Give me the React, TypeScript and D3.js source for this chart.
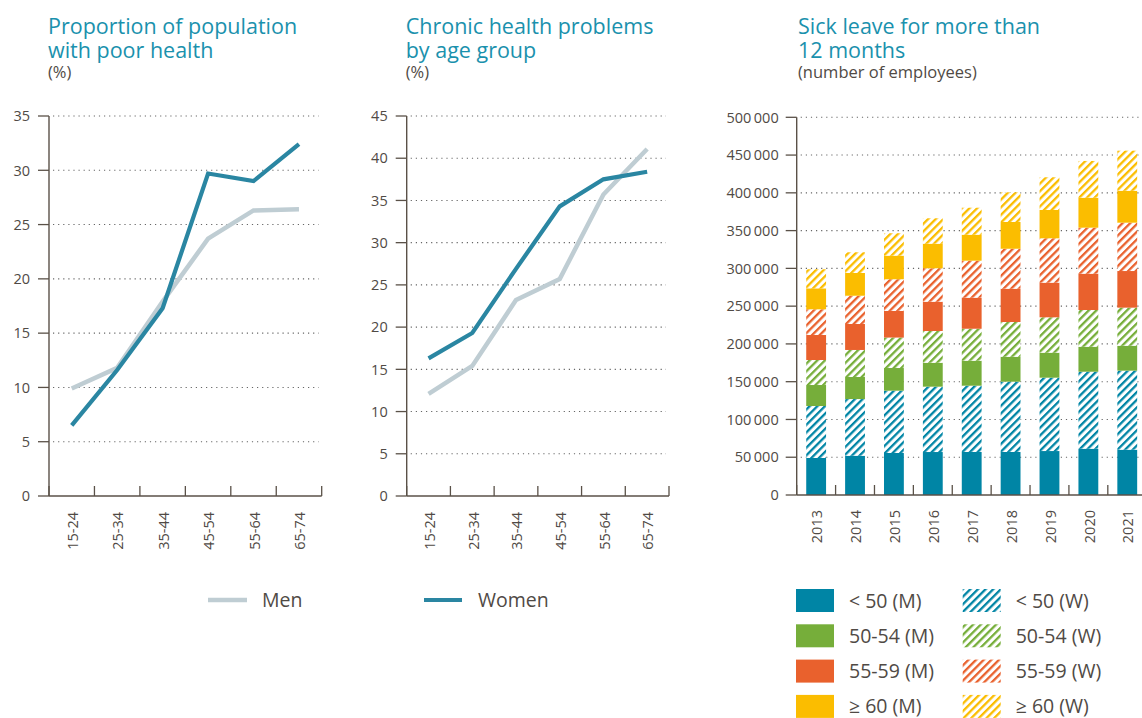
import React from "react";
import * as d3 from "d3";

// age groups for the two line charts
const ageGroups = ["15-24", "25-34", "35-44", "45-54", "55-64", "65-74"];
const poorHealthMen = [9.9, 11.8, 17.9, 23.7, 26.3, 26.4];
const poorHealthWomen = [6.5, 11.6, 17.3, 29.7, 29.0, 32.4];
const chronicMen = [12.1, 15.4, 23.2, 25.7, 35.7, 41.1];
const chronicWomen = [16.3, 19.3, 26.9, 34.3, 37.5, 38.4];

// sick leave > 12 months, by year
const years = ["2013", "2014", "2015", "2016", "2017", "2018", "2019", "2020", "2021"];
const under50M = [49000, 52000, 55600, 56900, 57000, 57000, 58200, 61300, 60000];
const under50W = [68800, 75000, 82500, 86500, 87700, 93000, 97100, 101900, 104600];
const age5054M = [27800, 29200, 30000, 31700, 33100, 33000, 33100, 33100, 33000];
const age5054W = [33100, 35800, 40300, 42000, 42300, 46000, 46800, 48600, 50400];
const age5559M = [33100, 34400, 35300, 38800, 41100, 44100, 45900, 48100, 48500];
const age5559W = [34000, 37400, 41900, 44200, 49000, 52900, 58700, 60900, 64000];
const over60M = [27800, 30100, 31300, 32600, 34400, 35400, 37500, 39700, 42300];
const over60W = [25200, 27400, 29600, 33600, 35700, 39300, 43300, 48600, 53000];

const seriesKeys = ["u50M", "u50W", "a50M", "a50W", "a55M", "a55W", "a60M", "a60W"];
const seriesLabels = ["< 50 (M)", "< 50 (W)", "50-54 (M)", "50-54 (W)", "55-59 (M)", "55-59 (W)", "≥ 60 (M)", "≥ 60 (W)"];
const seriesValues = [under50M, under50W, age5054M, age5054W, age5559M, age5559W, over60M, over60W];
const seriesColors = ["#0085a5", "#0085a5", "#76ae3a", "#76ae3a", "#e9612d", "#e9612d", "#fbbd00", "#fbbd00"];

const FONT = "'Open Sans', 'Noto Sans', sans-serif";
const TITLE = "#1a91ad";
const TEXT = "#504a45";
const AXIS = "#5a5148";
const MEN = "#bfcdd3";
const WOMEN = "#2a86a2";

function Title({ x, lines, sub }) {
  return (
    <g fontFamily={FONT}>
      {lines.map((l, i) => (
        <text key={i} x={x} y={34 + i * 24} fill={TITLE} fontSize={21.5}>{l}</text>
      ))}
      <text x={x} y={34 + lines.length * 24 - 4} fill={TEXT} fontSize={16.5}>{sub}</text>
    </g>
  );
}

function LineChart({ left, right, yMax, men, women, title }) {
  const top = 116, bottom = 496;
  const x = d3.scaleBand().domain(ageGroups).range([left, right]).padding(0);
  const y = d3.scaleLinear().domain([0, yMax]).range([bottom, top]);
  const cx = (d) => x(d) + x.bandwidth() / 2;
  const line = d3.line().x((d) => cx(d[0])).y((d) => y(d[1]));
  const ticks = d3.range(0, yMax + 1, 5);
  const bounds = ageGroups.map((g) => x(g)).concat([right]);
  return (
    <g fontFamily={FONT}>
      <Title x={left - 1} lines={title} sub="(%)" />
      {ticks.map((t) => (
        <g key={t}>
          {t > 0 && (
            <line x1={left + 4} x2={right - 3} y1={y(t)} y2={y(t)} stroke="#666" strokeWidth={1.1} strokeDasharray="1.2 3.9" />
          )}
          <line x1={left - 11} x2={left} y1={y(t)} y2={y(t)} stroke={AXIS} strokeWidth={1.3} />
          <text x={left - 19} y={y(t)} dy="0.36em" textAnchor="end" fontSize={14.5} fill={TEXT}>{t}</text>
        </g>
      ))}
      <line x1={left} x2={left} y1={top} y2={bottom} stroke={AXIS} strokeWidth={1.4} />
      <line x1={left} x2={right} y1={bottom} y2={bottom} stroke={AXIS} strokeWidth={1.4} />
      {bounds.map((b, i) => (
        <line key={i} x1={b} x2={b} y1={bottom - 10} y2={bottom} stroke={AXIS} strokeWidth={1.3} />
      ))}
      {ageGroups.map((g) => (
        <text key={g} transform={`translate(${cx(g) + 1},512) rotate(-90)`} dy="0.36em" textAnchor="end" fontSize={14.5} fill={TEXT}>{g}</text>
      ))}
      <path d={line(ageGroups.map((g, i) => [g, men[i]]))} fill="none" stroke={MEN} strokeWidth={4.5} />
      <path d={line(ageGroups.map((g, i) => [g, women[i]]))} fill="none" stroke={WOMEN} strokeWidth={4.2} />
    </g>
  );
}

function StackedChart() {
  const left = 796.7, top = 117.3, bottom = 495;
  const x = d3.scaleBand().domain(years).range([left, left + 350]).paddingInner(0.49).paddingOuter(0.245);
  const y = d3.scaleLinear().domain([0, 500000]).range([bottom, top]);
  const rows = years.map((yr, i) => {
    const r = { year: yr };
    seriesKeys.forEach((k, j) => (r[k] = seriesValues[j][i]));
    return r;
  });
  const stacked = d3.stack().keys(seriesKeys)(rows);
  const fmt = (v) => d3.format(",")(v).replace(/,/g, "\u2009");
  const ticks = d3.range(0, 500001, 50000);
  const step = x.step();
  return (
    <g fontFamily={FONT}>
      <Title x={798} lines={["Sick leave for more than", "12 months"]} sub="(number of employees)" />
      {ticks.map((t) => (
        <g key={t}>
          {t > 0 && (
            <line x1={left + 4} x2={1142} y1={y(t)} y2={y(t)} stroke="#666" strokeWidth={1.1} strokeDasharray="1.2 3.9" />
          )}
          <line x1={left - 11} x2={left} y1={y(t)} y2={y(t)} stroke={AXIS} strokeWidth={1.3} />
          <text x={left - 18} y={y(t)} dy="0.36em" textAnchor="end" fontSize={14.5} fill={TEXT}>{fmt(t)}</text>
        </g>
      ))}
      {stacked.map((s, j) => (
        <g key={s.key} fill={j % 2 === 0 ? seriesColors[j] : `url(#hatch-${j})`}>
          {s.map((d, i) => (
            <rect key={i} x={x(years[i])} width={x.bandwidth()} y={y(d[1])} height={y(d[0]) - y(d[1])} />
          ))}
        </g>
      ))}
      <line x1={left} x2={left} y1={top} y2={bottom} stroke={AXIS} strokeWidth={1.4} />
      <line x1={left} x2={1142} y1={bottom} y2={bottom} stroke={AXIS} strokeWidth={1.4} />
      {d3.range(0, 10).map((i) => (
        <line key={i} x1={left + i * step} x2={left + i * step} y1={bottom - 10} y2={bottom} stroke={AXIS} strokeWidth={1.3} />
      ))}
      {years.map((yr) => (
        <text key={yr} transform={`translate(${x(yr) + x.bandwidth() / 2 + 1},510) rotate(-90)`} dy="0.36em" textAnchor="end" fontSize={14.5} fill={TEXT}>{yr}</text>
      ))}
    </g>
  );
}

function BarLegend() {
  return (
    <g fontFamily={FONT}>
      {seriesKeys.map((k, j) => {
        const row = Math.floor(j / 2);
        const col = j % 2;
        const bx = col === 0 ? 796 : 962.7;
        const by = 589 + row * 35.3;
        return (
          <g key={k}>
            <rect x={bx} y={by} width={38} height={23} fill={col === 0 ? seriesColors[j] : `url(#hatch-${j})`} />
            <text x={bx + 53} y={by + 18.5} fontSize={19.5} fill={TEXT}>{seriesLabels[j]}</text>
          </g>
        );
      })}
    </g>
  );
}

export default function App() {
  return (
    <svg width={1142} height={718} style={{ position: "fixed", left: 0, top: 0, background: "#fff" }}>
      <defs>
        {seriesColors.map((c, j) => (
          <pattern key={j} id={`hatch-${j}`} width={5.4} height={5.4} patternUnits="userSpaceOnUse" patternTransform="rotate(45)">
            <rect width={5.4} height={5.4} fill="#fff" />
            <rect width={2.3} height={5.4} fill={c} />
          </pattern>
        ))}
      </defs>
      <rect width={1142} height={718} fill="#fff" />
      <LineChart left={49} right={321.7} yMax={35} men={poorHealthMen} women={poorHealthWomen} title={["Proportion of population", "with poor health"]} />
      <LineChart left={406.7} right={669} yMax={45} men={chronicMen} women={chronicWomen} title={["Chronic health problems", "by age group"]} />
      <StackedChart />
      <g fontFamily={FONT}>
        <line x1={208} x2={247} y1={600} y2={600} stroke={MEN} strokeWidth={4.5} />
        <text x={262} y={607} fontSize={19.5} fill={TEXT}>Men</text>
        <line x1={424} x2={462} y1={600} y2={600} stroke={WOMEN} strokeWidth={4.2} />
        <text x={478} y={607} fontSize={19.5} fill={TEXT}>Women</text>
      </g>
      <BarLegend />
    </svg>
  );
}
